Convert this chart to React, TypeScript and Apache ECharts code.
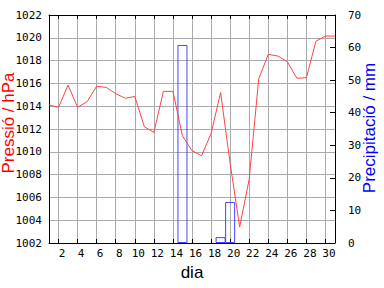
import React, { useEffect, useRef } from "react";
import * as echarts from "echarts";

const days = ["1","2","3","4","5","6","7","8","9","10","11","12","13","14","15","16","17","18","19","20","21","22","23","24","25","26","27","28","29","30","31"];
const pressure = [1014.1,1013.9,1015.85,1013.9,1014.4,1015.75,1015.65,1015.1,1014.7,1014.85,1012.2,1011.7,1015.3,1015.3,1011.4,1010.1,1009.65,1011.6,1015.2,1009.0,1003.4,1007.6,1016.4,1018.55,1018.4,1017.9,1016.45,1016.5,1019.7,1020.15,1020.15];
const precipitation = [null,null,null,null,null,null,null,null,null,null,null,null,null,null,60.8,null,null,null,1.8,12.6,null,null,null,null,null,null,null,null,null,null,null];
const leftTitle = "Pressió / hPa";
const rightTitle = "Precipitació / mm";
const xTitle = "dia";

export default function App() {
  const ref = useRef<HTMLDivElement>(null);
  useEffect(() => {
    if (!ref.current) return;
    const chart = echarts.init(ref.current, null, { renderer: "svg" });
    const mono = '"DejaVu Sans Mono", monospace';
    const sans = '"Liberation Sans", Arial, sans-serif';
    const everyOther = (i: number) => i % 2 === 1;
    const plain = (v: number) => String(v);
    chart.setOption({
      animation: false,
      backgroundColor: "#ffffff",
      grid: { left: 49, right: 49, top: 15, bottom: 45, containLabel: false },
      xAxis: [
        {
          type: "category",
          data: days,
          boundaryGap: false,
          position: "bottom",
          axisLine: { show: true, lineStyle: { color: "#000", width: 1 } },
          axisTick: { show: true, inside: true, length: 4, interval: everyOther, lineStyle: { color: "#000" } },
          axisLabel: { show: true, interval: everyOther, fontFamily: mono, fontSize: 11, color: "#000", margin: 5, padding: [0, 0, 0, 7] },
          splitLine: { show: true, interval: everyOther, lineStyle: { color: "#aaaaaa", width: 1 } },
        },
        {
          type: "category",
          data: days,
          boundaryGap: false,
          position: "top",
          axisLine: { show: true, lineStyle: { color: "#000", width: 1 } },
          axisTick: { show: true, inside: true, length: 4, interval: everyOther, lineStyle: { color: "#000" } },
          axisLabel: { show: false },
          splitLine: { show: false },
        },
      ],
      yAxis: [
        {
          type: "value",
          min: 1002,
          max: 1022,
          interval: 2,
          position: "left",
          axisLine: { show: true, lineStyle: { color: "#000", width: 1 } },
          axisTick: { show: false },
          axisLabel: { fontFamily: mono, fontSize: 11, color: "#000", margin: 7, formatter: plain },
          splitLine: { show: true, lineStyle: { color: "#aaaaaa", width: 1 } },
        },
        {
          type: "value",
          min: 0,
          max: 70,
          interval: 10,
          position: "right",
          axisLine: { show: true, lineStyle: { color: "#000", width: 1 } },
          axisTick: { show: true, inside: true, length: 5, lineStyle: { color: "#000" } },
          axisLabel: { fontFamily: mono, fontSize: 11, color: "#000", margin: 13, formatter: plain },
          splitLine: { show: false },
        },
      ],
      series: [
        {
          type: "bar",
          xAxisIndex: 0,
          yAxisIndex: 1,
          data: precipitation,
          barWidth: 10,
          itemStyle: { color: "rgba(0,0,0,0)", borderColor: "#4444ff", borderWidth: 1 },
          z: 2,
        },
        {
          type: "line",
          xAxisIndex: 0,
          yAxisIndex: 0,
          data: pressure,
          symbol: "none",
          lineStyle: { color: "#ff4444", width: 1 },
          z: 3,
        },
      ],
      graphic: [
        {
          type: "text",
          x: 8,
          y: 123,
          rotation: Math.PI / 2,
          style: { text: leftTitle, fill: "#ff0000", font: `17px ${sans}`, align: "center", verticalAlign: "middle" },
        },
        {
          type: "text",
          x: 369,
          y: 128,
          rotation: Math.PI / 2,
          style: { text: rightTitle, fill: "#0000ff", font: `17px ${sans}`, align: "center", verticalAlign: "middle" },
        },
        {
          type: "text",
          x: 192,
          y: 272,
          style: { text: xTitle, fill: "#000000", font: `17px ${sans}`, align: "center", verticalAlign: "middle" },
        },
      ],
    });
    return () => chart.dispose();
  }, []);
  return <div ref={ref} style={{ position: "fixed", left: 0, top: 0, width: 384, height: 288, background: "#fff" }} />;
}
